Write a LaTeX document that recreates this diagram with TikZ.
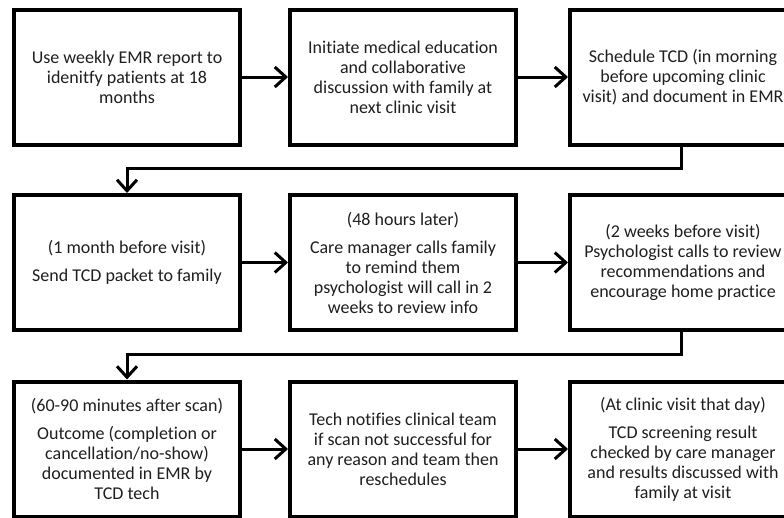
\documentclass[tikz,border=0pt]{standalone}
\usepackage{fontspec}
\setmainfont{Carlito}[Ligatures={NoCommon,NoRare,NoContextual}]
\usetikzlibrary{arrows.meta}
\begin{document}
\begin{tikzpicture}[x=1pt,y=-1pt,
  box/.style={draw=black, line width=4pt, minimum width=226pt, minimum height=135pt,
    align=center, inner sep=0pt, text=black!88, font=\fontsize{18}{20}\selectfont},
  conn/.style={line width=3pt, -{Straight Barb[length=11pt,width=20pt]}}
]
\useasboundingbox (0,0) rectangle (784,517);
\fill[white] (0,0) rectangle (784,517);
% row 1
\node[box] (b1) at (127,77) {Use weekly EMR report to\\idenitfy patients at 18\\months};
\node[box] (b2) at (403,77) {Initiate medical education\\and collaborative\\discussion with family at\\next clinic visit};
\node[box] (b3) at (683,77) {Schedule TCD (in morning\\before upcoming clinic\\visit) and document in EMR};
% row 2
\node[box] (b4) at (127,262.5) {(1 month before visit)\\[8pt]Send TCD packet to family};
\node[box] (b5) at (403,262.5) {(48 hours later)\\[8pt]Care manager calls family\\to remind them\\psychologist will call in 2\\weeks to review info};
\node[box] (b6) at (683,262.5) {(2 weeks before visit)\\Psychologist calls to review\\recommendations and\\encourage home practice};
% row 3
\node[box] (b7) at (127,449) {(60-90 minutes after scan)\\[8pt]Outcome (completion or\\cancellation/no-show)\\documented in EMR by\\TCD tech};
\node[box] (b8) at (403,449) {Tech notifies clinical team\\if scan not successful for\\any reason and team then\\reschedules};
\node[box] (b9) at (683,449) {(At clinic visit that day)\\[8pt]TCD screening result\\checked by care manager\\and results discussed with\\family at visit};
% horizontal arrows
\draw[conn] (b1.east) -- (b2.west);
\draw[conn] (b2.east) -- (b3.west);
\draw[conn] (b4.east) -- (b5.west);
\draw[conn] (b5.east) -- (b6.west);
\draw[conn] (b7.east) -- (b8.west);
\draw[conn] (b8.east) -- (b9.west);
% elbow connectors
\coordinate (e1) at ([xshift=-2pt,yshift=-22pt]b3.south);
\coordinate (e2) at ([xshift=-2pt,yshift=-22pt]b6.south);
\draw[conn] ([xshift=-2pt]b3.south) -- (e1) -| (b4.north);
\draw[conn] ([xshift=-2pt]b6.south) -- (e2) -| (b7.north);
\end{tikzpicture}
\end{document}
